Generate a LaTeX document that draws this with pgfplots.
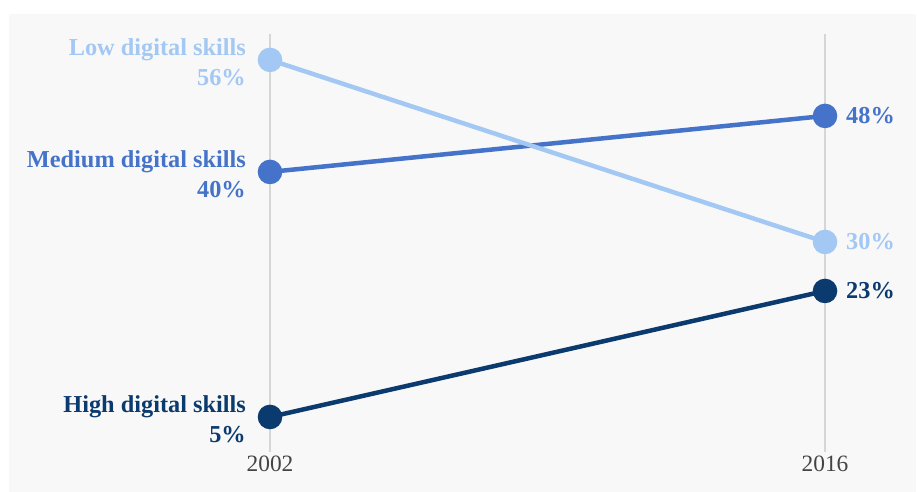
\documentclass[border=0pt]{standalone}
\usepackage{fontspec}
\setmainfont{Liberation Serif}
\usepackage{pgfplots}
\pgfplotsset{compat=1.18}
\definecolor{lowc}{HTML}{A3C8F3}
\definecolor{medc}{HTML}{4473C9}
\definecolor{highc}{HTML}{0B3A6E}
\definecolor{panel}{HTML}{F8F8F8}
\definecolor{gridc}{HTML}{D6D6D6}
\definecolor{yearc}{HTML}{444444}
\newcommand{\lab}{\fontsize{24.4}{30}\selectfont\bfseries}
\begin{document}
\begin{tikzpicture}[x=1bp,y=1bp]
\fill[white] (0,0) rectangle (917,492);
\fill[panel] (9,0) rectangle (916,478);
\begin{axis}[
  at={(270bp,40bp)}, anchor=south west,
  scale only axis, width=555bp, height=418bp,
  xmin=2002, xmax=2016, ymin=0, ymax=59.7,
  clip=false,
  axis line style={draw=none},
  ytick=\empty,
  xtick={2002,2016}, xticklabels={2002,2016},
  major tick length=0pt,
  xmajorgrids,
  grid style={gridc, line width=1.5bp},
  xticklabel style={text=yearc, font=\fontsize{23.5}{28}\selectfont},
  every axis plot/.append style={line width=4.5bp, mark=*, mark size=10bp},
]
\addplot[medc, mark options={fill=medc}] coordinates {(2002,40) (2016,48)};
\addplot[highc, mark options={fill=highc}] coordinates {(2002,5) (2016,23)};
\addplot[lowc, mark options={fill=lowc}] coordinates {(2002,56) (2016,30)};

% series names and values at the start year
\node[anchor=east, align=right, text=lowc, font=\lab, inner sep=0pt, xshift=-24bp, yshift=-2bp]
  at (axis cs:2002,56) {Low digital skills\\56\%};
\node[anchor=east, align=right, text=medc, font=\lab, inner sep=0pt, xshift=-24bp, yshift=-2bp]
  at (axis cs:2002,40) {Medium digital skills\\40\%};
\node[anchor=east, align=right, text=highc, font=\lab, inner sep=0pt, xshift=-24bp, yshift=-2bp]
  at (axis cs:2002,5) {High digital skills\\5\%};

% values at the end year
\node[anchor=west, text=medc, font=\lab, inner sep=0pt, xshift=21bp] at (axis cs:2016,48) {48\%};
\node[anchor=west, text=lowc, font=\lab, inner sep=0pt, xshift=21bp] at (axis cs:2016,30) {30\%};
\node[anchor=west, text=highc, font=\lab, inner sep=0pt, xshift=21bp] at (axis cs:2016,23) {23\%};
\end{axis}
\useasboundingbox (0,0) rectangle (917,492);
\end{tikzpicture}
\end{document}
